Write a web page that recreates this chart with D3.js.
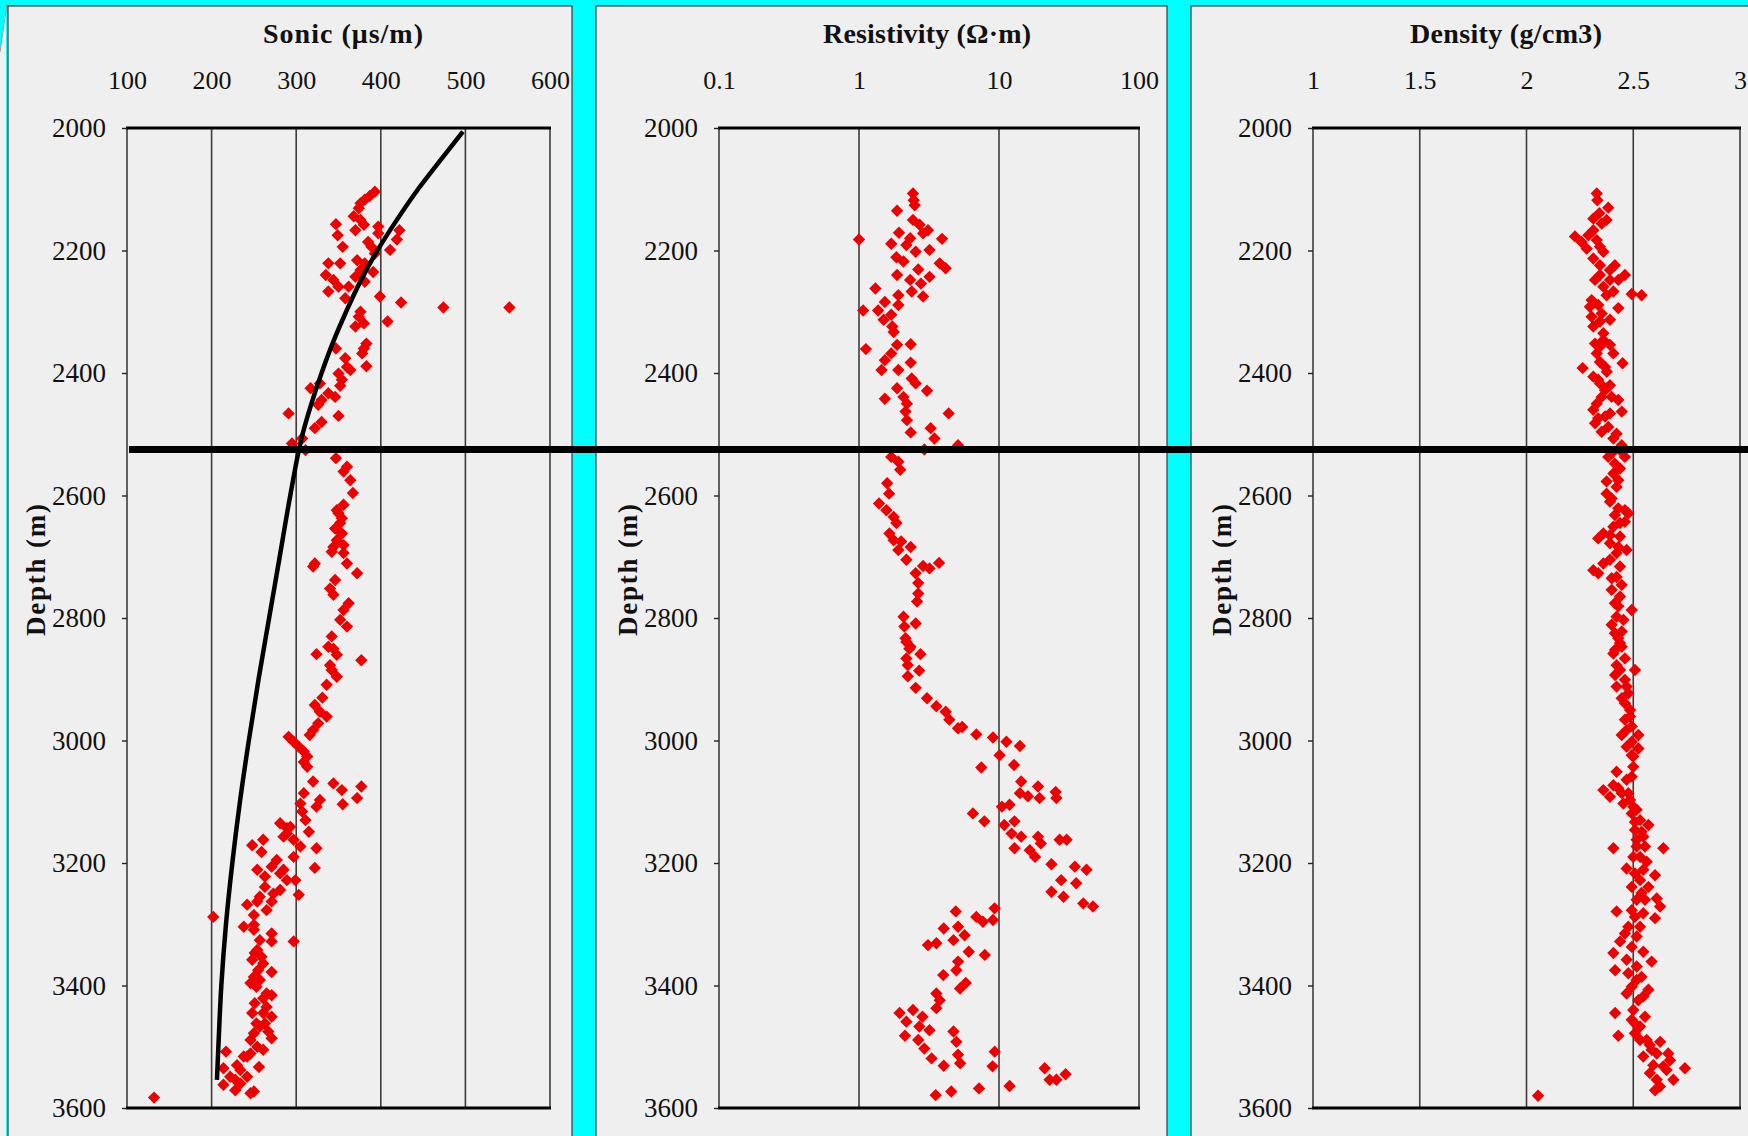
<!DOCTYPE html>
<html>
<head>
<meta charset="utf-8">
<script src="https://cdn.jsdelivr.net/npm/d3@7"></script>
<style>
html, body { margin: 0; padding: 0; background: #00ffff; }
svg { display: block; }
text { font-family: "Liberation Serif", "Times New Roman", serif; fill: #111; }
</style>
</head>
<body>
<script>
// depth axis (m)
var depthTicks = [2000, 2200, 2400, 2600, 2800, 3000, 3200, 3400, 3600];
var sonicTicks = [100, 200, 300, 400, 500, 600];
var resTicks = [0.1, 1, 10, 100];
var denTicks = [1, 1.5, 2, 2.5, 3];

// thick marker line across all tracks
var markerDepth = 2525;

// [depth, sonic us/m]
var sonicPoints = [
  [2104,393],[2111,387],[2117,381],[2123,376],[2131,374],[2144,368],[2150,376],[2158,380],[2167,370],[2157,347],
  [2175,349],[2194,355],[2161,397],[2172,397],[2167,422],[2182,419],[2199,411],[2186,385],[2194,389],[2205,393],
  [2216,372],[2221,352],[2221,338],[2240,335],[2221,381],[2235,391],[2232,376],[2243,370],[2248,344],[2267,338],
  [2259,350],[2259,362],[2251,381],[2278,358],[2275,399],[2285,424],[2293,474],[2293,552],[2300,376],[2308,374],
  [2319,380],[2324,370],[2316,408],[2352,383],[2360,380],[2368,378],[2360,347],[2376,358],[2390,360],[2395,364],
  [2389,383],[2401,350],[2411,354],[2421,352],[2417,328],[2425,317],[2433,338],[2439,346],[2444,330],[2452,326],
  [2466,291],[2470,350],[2480,330],[2490,322],[2507,307],[2515,295],[2526,311],[2539,347],[2553,360],[2561,356],
  [2575,364],[2596,367],[2615,356],[2624,348],[2637,354],[2629,350],[2645,352],[2654,346],[2662,354],[2673,348],
  [2681,356],[2684,344],[2692,342],[2694,356],[2711,360],[2711,322],[2716,320],[2727,372],[2738,346],[2752,340],
  [2762,344],[2776,362],[2787,356],[2803,352],[2814,360],[2830,342],[2847,338],[2850,344],[2860,348],[2859,324],
  [2869,377],[2877,340],[2885,342],[2896,348],[2909,336],[2930,331],[2942,322],[2953,328],[2961,336],[2972,326],
  [2983,320],[2991,316],[2994,291],[3002,297],[3010,303],[3018,309],[3026,313],[3035,309],[3043,313],[3067,320],
  [3070,344],[3081,354],[3075,377],[3094,372],[3104,355],[3097,328],[3108,324],[3086,309],[3103,305],[3116,307],
  [3130,311],[3149,315],[3135,281],[3143,289],[3157,285],[3162,297],[3173,305],[3176,324],[3171,248],[3162,261],
  [3182,259],[3195,277],[3190,297],[3208,322],[3211,254],[3222,263],[3211,285],[3228,289],[3228,299],[3239,263],
  [3244,281],[3252,303],[3268,242],[3263,254],[3263,271],[3277,265],[3285,250],[3288,202],[3304,238],[3301,250],
  [3315,271],[3328,271],[3328,297],[3342,254],[3353,259],[3358,248],[3378,271],[3375,255],[3396,246],[3402,253],
  [3416,271],[3421,261],[3435,265],[3445,248],[3451,271],[3467,257],[3475,267],[3486,271],[3489,246],[3500,254],
  [3505,261],[3508,217],[3516,238],[3530,230],[3533,256],[3535,214],[3549,242],[3554,228],[3562,214],[3560,234],
  [3571,228],[3576,246],[3573,250],[3583,132],
  [3309,250],[3326,257],[3347,251],[3364,261],[3386,250],[3391,257],[3413,265],[3429,251],[3445,261],[3462,253],
  [3462,263],[3478,250],[3516,242],[3538,234],[3549,222],[3511,246],[3152,289],[3141,293],[3206,271],[3217,281],
  [3250,273],[3255,257]
];

// [depth, sonic] trend line
var sonicTrend = [
  [2006,497],[2050,472],[2100,444],[2150,419],[2200,396],[2250,376],[2300,359],[2350,343.5],[2400,330],
  [2450,318],[2500,307.5],[2600,293],[2700,280.5],[2800,268],[2900,255.5],[3000,244],[3100,233.5],
  [3200,224.5],[3300,217],[3400,211.5],[3500,208],[3554,206.3]
];

// [depth, resistivity ohm.m]
var resPoints = [
  [2107,2.43],[2118,2.46],[2126,2.5],[2135,1.87],[2150,2.43],[2158,2.71],[2167,3.11],[2172,2.87],[2171,1.93],[2182,1.0],
  [2181,3.92],[2180,2.32],[2189,1.70],[2191,2.18],[2199,3.19],[2202,2.54],[2211,1.85],[2218,2.08],[2221,3.77],[2229,4.16],
  [2231,2.65],[2240,1.87],[2243,3.19],[2248,2.32],[2254,2.77],[2262,1.31],[2267,2.38],[2275,2.87],[2273,1.91],[2284,1.53],
  [2289,1.91],[2298,1.07],[2298,1.37],[2305,1.70],[2313,1.50],[2324,1.73],[2333,1.77],[2361,1.12],[2354,1.87],[2353,2.34],
  [2368,1.70],[2379,1.53],[2395,1.45],[2383,2.34],[2395,1.91],[2409,2.38],[2417,2.54],[2425,1.87],[2429,3.06],[2442,1.53],
  [2439,2.08],[2450,2.20],[2463,2.15],[2477,2.20],[2497,2.34],[2466,4.37],[2490,3.25],[2507,3.46],[2518,5.10],[2525,2.93],
  [2537,1.70],[2545,1.91],[2558,1.97],[2580,1.59],[2597,1.64],[2613,1.39],[2624,1.57],[2635,1.77],[2645,1.85],[2662,1.65],
  [2673,1.77],[2675,2.0],[2689,1.91],[2684,2.34],[2705,2.18],[2715,2.87],[2719,3.19],[2710,3.73],[2727,2.54],[2743,2.65],
  [2760,2.65],[2773,2.60],[2798,2.08],[2809,2.54],[2814,2.11],[2833,2.15],[2847,2.33],[2839,2.18],[2850,2.29],[2866,2.18],
  [2859,2.75],[2877,2.23],[2886,2.69],[2895,2.23],[2914,2.54],[2931,3.06],[2944,3.57],[2953,4.16],[2966,4.42],[2980,5.10],
  [2978,5.46],[2990,6.89],[2995,9.06],[3002,11.3],[3009,14.1],[3024,10.1],[3044,7.48],[3040,12.8],[3067,14.4],[3086,14.1],
  [3091,16.1],[3075,19.0],[3094,19.5],[3084,25.4],[3094,25.7],[3108,10.5],[3105,11.9],[3119,6.51],[3132,7.86],[3138,10.9],
  [3132,12.9],[3152,12.3],[3157,14.4],[3157,19.0],[3168,19.9],[3162,27.1],[3162,30.4],[3176,12.9],[3179,16.6],[3190,18.1],
  [3202,23.7],[3206,34.8],[3211,42.2],[3228,27.8],[3233,35.6],[3247,23.7],[3255,28.9],[3266,40.0],[3271,46.9],[3279,4.91],
  [3288,6.89],[3296,7.68],[3274,9.3],[3293,9.06],[3307,4.03],[3304,5.10],[3318,5.68],[3326,4.73],[3334,3.11],[3331,3.57],
  [3350,7.92],[3345,6.08],[3361,5.10],[3375,4.96],[3383,4.00],[3396,5.79],[3405,5.27],[3413,3.57],[3424,3.77],[3437,3.57],
  [3445,1.95],[3440,2.43],[3451,2.84],[3459,2.18],[3467,2.70],[3473,3.19],[3482,2.13],[3489,2.65],[3503,2.93],[3519,3.30],
  [3475,4.73],[3492,4.96],[3513,5.10],[3527,5.28],[3531,4.03],[3508,9.32],[3532,9.0],[3535,21.2],[3554,23.0],[3554,25.7],
  [3545,29.9],[3564,11.9],[3568,7.2],[3573,4.56],[3579,3.53]
];

// [depth, density g/cm3]
var denPoints = [
  [2107,2.329],[2118,2.332],[2130,2.383],[2139,2.341],[2156,2.352],[2167,2.313],[2177,2.227],[2186,2.258],[2183,2.329],[2197,2.282],
  [2202,2.360],[2213,2.313],[2224,2.344],[2224,2.414],[2240,2.461],[2240,2.344],[2248,2.391],[2259,2.360],[2271,2.493],[2273,2.539],
  [2267,2.407],[2281,2.305],[2292,2.297],[2289,2.336],[2294,2.430],[2308,2.305],[2316,2.344],[2324,2.313],[2335,2.360],[2352,2.321],
  [2354,2.391],[2368,2.329],[2368,2.407],[2382,2.344],[2384,2.450],[2392,2.263],[2398,2.376],[2406,2.313],[2417,2.344],[2428,2.368],
  [2439,2.399],[2444,2.430],[2450,2.329],[2463,2.446],[2460,2.313],[2471,2.368],[2482,2.321],[2496,2.352],[2499,2.422],[2507,2.407],
  [2518,2.446],[2531,2.399],[2537,2.461],[2548,2.414],[2556,2.438],[2564,2.407],[2577,2.375],[2586,2.422],[2597,2.375],[2610,2.391],
  [2621,2.430],[2629,2.477],[2632,2.414],[2643,2.461],[2651,2.407],[2662,2.360],[2670,2.336],[2667,2.438],[2678,2.391],[2689,2.469],
  [2694,2.422],[2705,2.391],[2722,2.313],[2716,2.438],[2727,2.336],[2735,2.399],[2746,2.446],[2754,2.399],[2765,2.438],[2787,2.493],
  [2781,2.430],[2798,2.422],[2811,2.399],[2822,2.446],[2833,2.430],[2847,2.446],[2841,2.438],[2858,2.407],[2866,2.461],[2877,2.422],
  [2885,2.508],[2893,2.415],[2901,2.461],[2912,2.422],[2923,2.477],[2939,2.461],[2950,2.485],[2966,2.461],[2983,2.469],[2991,2.446],
  [2991,2.524],[3002,2.493],[3013,2.524],[3024,2.493],[3043,2.500],[3051,2.422],[3059,2.493],[3073,2.407],[3081,2.360],[3078,2.430],
  [3092,2.391],[3086,2.477],[3103,2.454],[3108,2.500],[3119,2.493],[3130,2.532],[3138,2.571],[3146,2.508],[3157,2.547],[3176,2.407],
  [3176,2.641],[3173,2.516],[3190,2.532],[3198,2.563],[3209,2.469],[3217,2.508],[3220,2.602],[3239,2.493],[3249,2.539],[3258,2.610],
  [3271,2.626],[3260,2.555],[3279,2.422],[3290,2.602],[3288,2.508],[3304,2.532],[3315,2.461],[3328,2.438],[3337,2.493],[3347,2.407],
  [3345,2.547],[3361,2.586],[3375,2.415],[3380,2.477],[3391,2.516],[3407,2.571],[3413,2.469],[3424,2.524],[3440,2.500],[3445,2.415],
  [3451,2.555],[3456,2.493],[3467,2.532],[3482,2.430],[3478,2.508],[3489,2.563],[3492,2.626],[3516,2.547],[3505,2.586],[3511,2.664],
  [3535,2.742],[3530,2.594],[3538,2.656],[3554,2.688],[3554,2.610],[3571,2.602],[3565,2.625],[3580,2.054],
  [2148,2.313],[2150,2.375],[2175,2.290],[2194,2.344],[2232,2.391],[2248,2.321],[2248,2.430],[2273,2.375],[2303,2.352],[2313,2.391],
  [2346,2.360],[2357,2.344],[2390,2.368],[2411,2.336],[2420,2.391],[2439,2.352],[2466,2.391],[2474,2.336],[2488,2.383],[2526,2.438],
  [2537,2.383],[2575,2.430],[2605,2.399],[2624,2.461],[2645,2.438],[2665,2.391],[2684,2.430],[2711,2.360],[2733,2.422],[2776,2.414],
  [2803,2.454],[2825,2.414],[2852,2.415],[2885,2.438],[2912,2.469],[2931,2.446],[2961,2.485],[2977,2.493],[3010,2.469],[3026,2.500],
  [3064,2.469],[3086,2.446],[3097,2.485],[3113,2.516],[3133,2.508],[3149,2.539],[3162,2.516],[3173,2.555],[3190,2.500],[3211,2.547],
  [3228,2.532],[3239,2.571],[3260,2.516],[3277,2.493],[3282,2.547],[3304,2.477],[3320,2.516],[3358,2.469],[3369,2.516],[3386,2.539],
  [3402,2.493],[3418,2.547],[3462,2.508],[3497,2.578],[3489,2.532],[3511,2.610],[3543,2.578],[3532,2.641],[3522,2.672]
];

var W = 1748, H = 1136;
var svg = d3.select("body").append("svg")
  .attr("width", W)
  .attr("height", H);

var y = d3.scaleLinear().domain([2000, 3600]).range([128, 1108]);

var tracks = [
  { title: "Sonic  (\u03bcs/m)", titleX: 343, titleLen: 160, bgX: 8, bgW: 564,
    x: d3.scaleLinear().domain([100, 600]).range([127, 550]), ticks: sonicTicks, points: sonicPoints },
  { title: "Resistivity (\u03a9\u00b7m)", titleX: 927, titleLen: 208, bgX: 596, bgW: 571,
    x: d3.scaleLog().domain([0.1, 100]).range([719, 1139]), ticks: resTicks, points: resPoints },
  { title: "Density (g/cm3)", titleX: 1506, titleLen: 192, bgX: 1191, bgW: 570,
    x: d3.scaleLinear().domain([1, 3]).range([1313, 1740]), ticks: denTicks, points: denPoints }
];

// little artefact at the left edge of the picture
svg.append("path")
  .attr("d", "M0,52 L6,8 L6," + H + " L0," + H + " Z")
  .attr("fill", "#f0f0f0");
svg.append("line")
  .attr("x1", 0).attr("y1", 52).attr("x2", 7).attr("y2", 4)
  .attr("stroke", "#999").attr("stroke-width", 1);

var diamond = "M0,-6.2L6.2,0L0,6.2L-6.2,0Z";

tracks.forEach(function(t) {
  var g = svg.append("g");
  var x0 = t.x.range()[0], x1 = t.x.range()[1];

  g.append("rect")
    .attr("x", t.bgX).attr("y", 6)
    .attr("width", t.bgW).attr("height", H)
    .attr("fill", "#efefef")
    .attr("stroke", "#3a3a3a").attr("stroke-width", 1.2);

  // vertical grid lines at every value tick
  g.selectAll(".grid")
    .data(t.ticks)
    .enter().append("line")
    .attr("x1", function(d) { return t.x(d); })
    .attr("x2", function(d) { return t.x(d); })
    .attr("y1", y(2000)).attr("y2", y(3600))
    .attr("stroke", "#3c3c3c").attr("stroke-width", 1.6);

  // top and bottom frame
  [2000, 3600].forEach(function(d) {
    g.append("line")
      .attr("x1", x0 - 1).attr("x2", x1 + 1)
      .attr("y1", y(d)).attr("y2", y(d))
      .attr("stroke", "#000").attr("stroke-width", 3);
  });

  // depth axis
  var yAxis = g.append("g")
    .attr("transform", "translate(" + x0 + ",0)")
    .call(d3.axisLeft(y).tickValues(depthTicks).tickSize(5).tickPadding(16).tickFormat(d3.format("d")));
  yAxis.select(".domain").remove();
  yAxis.selectAll("line").attr("stroke", "#222").attr("stroke-width", 1.4);
  yAxis.selectAll("text")
    .attr("font-family", "Liberation Serif, serif")
    .attr("font-size", 27).attr("fill", "#111");

  // value axis along the top
  var xAxis = g.append("g")
    .attr("transform", "translate(0," + y(2000) + ")")
    .call(d3.axisTop(t.x).tickValues(t.ticks).tickSize(0).tickPadding(39).tickFormat(function(d) { return String(d); }));
  xAxis.select(".domain").remove();
  xAxis.selectAll("text")
    .attr("font-family", "Liberation Serif, serif")
    .attr("font-size", 26).attr("fill", "#111");

  g.append("text")
    .attr("x", t.titleX).attr("y", 43)
    .attr("text-anchor", "middle")
    .attr("font-size", 28).attr("font-weight", "bold")
    .attr("textLength", t.titleLen).attr("lengthAdjust", "spacing")
    .text(t.title);

  g.append("text")
    .attr("transform", "translate(" + (x0 - 82) + ",570) rotate(-90)")
    .attr("text-anchor", "middle")
    .attr("font-size", 27).attr("font-weight", "bold")
    .attr("textLength", 132).attr("lengthAdjust", "spacing")
    .text("Depth (m)");

  g.selectAll(".pt")
    .data(t.points)
    .enter().append("path")
    .attr("d", diamond)
    .attr("transform", function(d) { return "translate(" + t.x(d[1]) + "," + y(d[0]) + ")"; })
    .attr("fill", "#ee0000");
});

// trend curve on the sonic track
var sx = tracks[0].x;
svg.append("path")
  .datum(sonicTrend)
  .attr("d", d3.line()
    .x(function(d) { return sx(d[1]); })
    .y(function(d) { return y(d[0]); })
    .curve(d3.curveMonotoneY))
  .attr("fill", "none")
  .attr("stroke", "#000")
  .attr("stroke-width", 4.5);

svg.append("line")
  .attr("x1", sx.range()[0] + 2).attr("x2", W)
  .attr("y1", y(markerDepth)).attr("y2", y(markerDepth))
  .attr("stroke", "#000").attr("stroke-width", 7);
</script>
</body>
</html>
